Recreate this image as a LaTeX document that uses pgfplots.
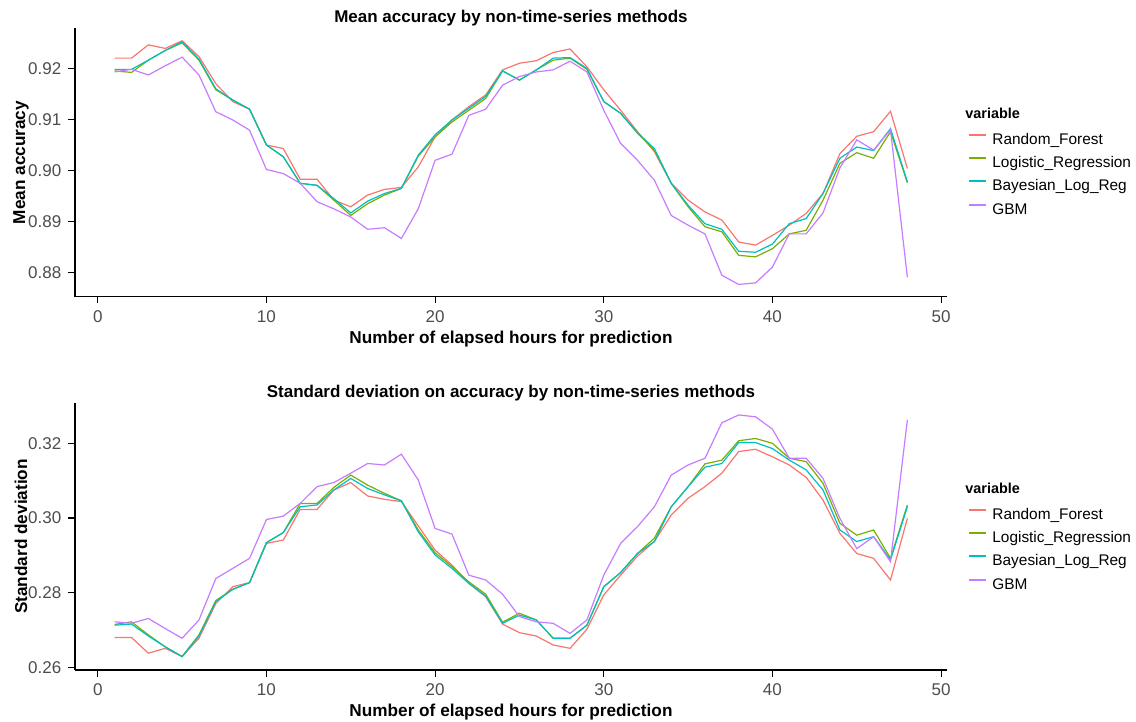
\documentclass[border=0pt]{standalone}
\usepackage{fontspec}
\setmainfont{Liberation Sans}
\usepackage{pgfplots}
\pgfplotsset{compat=1.18}
\usepackage{pgfplotstable}
\definecolor{cRF}{HTML}{F8766D}
\definecolor{cLR}{HTML}{7CAE00}
\definecolor{cBL}{HTML}{00BFC4}
\definecolor{cGBM}{HTML}{C77CFF}
\definecolor{tickgray}{HTML}{4D4D4D}

\pgfplotstableread{
x  RF     LR     BL     GBM
1  0.9220 0.9195 0.9198 0.9193
2  0.9220 0.9192 0.9198 0.9198
3  0.9246 0.9216 0.9216 0.9187
4  0.9239 0.9235 0.9235 0.9205
5  0.9254 0.9250 0.9252 0.9222
6  0.9223 0.9216 0.9218 0.9187
7  0.9170 0.9158 0.9160 0.9115
8  0.9135 0.9138 0.9138 0.9099
9  0.9120 0.9120 0.9120 0.9079
10 0.9050 0.9050 0.9050 0.9002
11 0.9043 0.9027 0.9027 0.8994
12 0.8983 0.8975 0.8975 0.8975
13 0.8983 0.8971 0.8971 0.8939
14 0.8942 0.8942 0.8945 0.8925
15 0.8929 0.8912 0.8917 0.8909
16 0.8952 0.8935 0.8940 0.8885
17 0.8963 0.8952 0.8955 0.8888
18 0.8967 0.8965 0.8965 0.8867
19 0.9007 0.9028 0.9030 0.8925
20 0.9066 0.9066 0.9070 0.9020
21 0.9099 0.9095 0.9099 0.9032
22 0.9125 0.9118 0.9122 0.9108
23 0.9148 0.9141 0.9145 0.9120
24 0.9197 0.9195 0.9195 0.9167
25 0.9210 0.9177 0.9177 0.9184
26 0.9215 0.9197 0.9197 0.9193
27 0.9231 0.9216 0.9220 0.9197
28 0.9238 0.9220 0.9221 0.9214
29 0.9203 0.9198 0.9200 0.9193
30 0.9158 0.9135 0.9135 0.9118
31 0.9118 0.9112 0.9112 0.9053
32 0.9076 0.9073 0.9074 0.9020
33 0.9037 0.9040 0.9043 0.8981
34 0.8975 0.8975 0.8975 0.8912
35 0.8942 0.8929 0.8932 0.8893
36 0.8919 0.8890 0.8896 0.8876
37 0.8903 0.8880 0.8885 0.8795
38 0.8860 0.8834 0.8842 0.8777
39 0.8854 0.8831 0.8840 0.8780
40 0.8873 0.8847 0.8856 0.8811
41 0.8893 0.8876 0.8896 0.8876
42 0.8916 0.8883 0.8906 0.8876
43 0.8955 0.8942 0.8955 0.8917
44 0.9033 0.9014 0.9024 0.9005
45 0.9067 0.9035 0.9046 0.9060
46 0.9076 0.9024 0.9039 0.9040
47 0.9116 0.9076 0.9082 0.9080
48 0.9004 0.8976 0.8978 0.8791
}\topdata

\pgfplotstableread{
x  RF     LR     BL     GBM
1  0.2680 0.2715 0.2713 0.2722
2  0.2680 0.2722 0.2716 0.2718
3  0.2638 0.2687 0.2684 0.2731
4  0.2651 0.2655 0.2655 0.2704
5  0.2629 0.2629 0.2629 0.2678
6  0.2678 0.2687 0.2684 0.2727
7  0.2771 0.2779 0.2776 0.2838
8  0.2816 0.2809 0.2809 0.2865
9  0.2827 0.2827 0.2827 0.2892
10 0.2932 0.2934 0.2934 0.2996
11 0.2941 0.2961 0.2961 0.3005
12 0.3023 0.3039 0.3030 0.3039
13 0.3023 0.3039 0.3035 0.3084
14 0.3075 0.3082 0.3075 0.3095
15 0.3095 0.3115 0.3106 0.3120
16 0.3059 0.3088 0.3079 0.3146
17 0.3050 0.3066 0.3062 0.3142
18 0.3044 0.3046 0.3046 0.3171
19 0.2979 0.2968 0.2963 0.3102
20 0.2914 0.2907 0.2901 0.2972
21 0.2874 0.2870 0.2865 0.2957
22 0.2825 0.2829 0.2825 0.2847
23 0.2789 0.2796 0.2791 0.2834
24 0.2716 0.2721 0.2718 0.2796
25 0.2693 0.2745 0.2740 0.2736
26 0.2684 0.2727 0.2727 0.2722
27 0.2660 0.2678 0.2678 0.2718
28 0.2651 0.2678 0.2678 0.2691
29 0.2702 0.2713 0.2713 0.2727
30 0.2794 0.2816 0.2816 0.2847
31 0.2847 0.2854 0.2854 0.2932
32 0.2898 0.2905 0.2905 0.2977
33 0.2937 0.2946 0.2937 0.3030
34 0.3008 0.3030 0.3030 0.3115
35 0.3053 0.3084 0.3084 0.3142
36 0.3084 0.3145 0.3136 0.3160
37 0.3120 0.3155 0.3146 0.3255
38 0.3178 0.3207 0.3202 0.3276
39 0.3184 0.3213 0.3202 0.3271
40 0.3164 0.3200 0.3186 0.3238
41 0.3142 0.3160 0.3155 0.3160
42 0.3109 0.3151 0.3129 0.3160
43 0.3048 0.3093 0.3075 0.3106
44 0.2959 0.2986 0.2968 0.2999
45 0.2905 0.2954 0.2937 0.2918
46 0.2892 0.2968 0.2950 0.2950
47 0.2834 0.2892 0.2888 0.2883
48 0.2999 0.3035 0.3030 0.3263
}\botdata

\pgfplotsset{ggstyle/.style={
  scale only axis, width=436pt,
  axis lines=left,
  axis line style={-, line width=0.6pt, black},
  tick align=outside, major tick length=3.3pt,
  tick style={line width=0.6pt, black},
  xmin=-1.35, xmax=50.35,
  xtick={0,10,20,30,40,50},
  xticklabels={0,10,20,30,40,50},
  ticklabel style={font=\fontsize{8.5}{10}\selectfont, text=tickgray},
  xlabel={Number of elapsed hours for prediction},
  label style={font=\bfseries\fontsize{8.6}{10}\selectfont},
  xlabel style={at={(axis description cs:0.5,0)}, anchor=base, yshift=-23.3pt, inner sep=0pt},
  ylabel style={at={(axis description cs:-0.0619,0.5)}, anchor=center, inner sep=0pt},
  title style={font=\bfseries\fontsize{8.5}{10}\selectfont, at={(axis description cs:0.5,1)}, anchor=base, yshift=-3.1pt, inner sep=0pt},
  legend style={draw=none, fill=none, inner sep=0pt, row sep=4.47pt, column sep=2.5pt,
    nodes={inner sep=0pt, text height=5.6pt, text depth=1.6pt},
    font=\fontsize{7.7}{9}\selectfont},
  legend cell align=left,
  legend image code/.code={\draw[#1, line width=1pt] (0pt,2.8pt) -- (8.5pt,2.8pt);},
  every axis plot/.append style={line width=0.6pt},
}}

\begin{document}
\begin{tikzpicture}
\useasboundingbox (0,0) rectangle (568pt,-361pt);
\begin{axis}[ggstyle,
  at={(37.5pt,-14.25pt)}, anchor=north west,
  height=134.1pt,
  ymin=0.8753, ymax=0.9278,
  ytick={0.88,0.89,0.90,0.91,0.92},
  yticklabels={0.88,0.89,0.90,0.91,0.92},
  ylabel={Mean accuracy},
  title={Mean accuracy by non-time-series methods},
  legend style={at={(rel axis cs:1.0241,0.6115)}, anchor=north west},
]
\addplot[cRF] table[x=x,y=RF] {\topdata};
\addlegendentry{Random\_Forest}
\addplot[cLR] table[x=x,y=LR] {\topdata};
\addlegendentry{Logistic\_Regression}
\addplot[cBL] table[x=x,y=BL] {\topdata};
\addlegendentry{Bayesian\_Log\_Reg}
\addplot[cGBM] table[x=x,y=GBM] {\topdata};
\addlegendentry{GBM}
\end{axis}
\node[anchor=base west, inner sep=0pt, font=\bfseries\fontsize{7.2}{9}\selectfont] at (482.5pt,-59.4pt) {variable};

\begin{axis}[ggstyle,
  at={(37.5pt,-201.5pt)}, anchor=north west,
  height=133.5pt,
  ymin=0.2593, ymax=0.3308,
  ytick={0.26,0.28,0.30,0.32},
  yticklabels={0.26,0.28,0.30,0.32},
  ylabel={Standard deviation},
  title={Standard deviation on accuracy by non-time-series methods},
  legend style={at={(rel axis cs:1.0241,0.608)}, anchor=north west},
]
\addplot[cRF] table[x=x,y=RF] {\botdata};
\addlegendentry{Random\_Forest}
\addplot[cLR] table[x=x,y=LR] {\botdata};
\addlegendentry{Logistic\_Regression}
\addplot[cBL] table[x=x,y=BL] {\botdata};
\addlegendentry{Bayesian\_Log\_Reg}
\addplot[cGBM] table[x=x,y=GBM] {\botdata};
\addlegendentry{GBM}
\end{axis}
\node[anchor=base west, inner sep=0pt, font=\bfseries\fontsize{7.2}{9}\selectfont] at (482.5pt,-246.9pt) {variable};
\end{tikzpicture}
\end{document}
